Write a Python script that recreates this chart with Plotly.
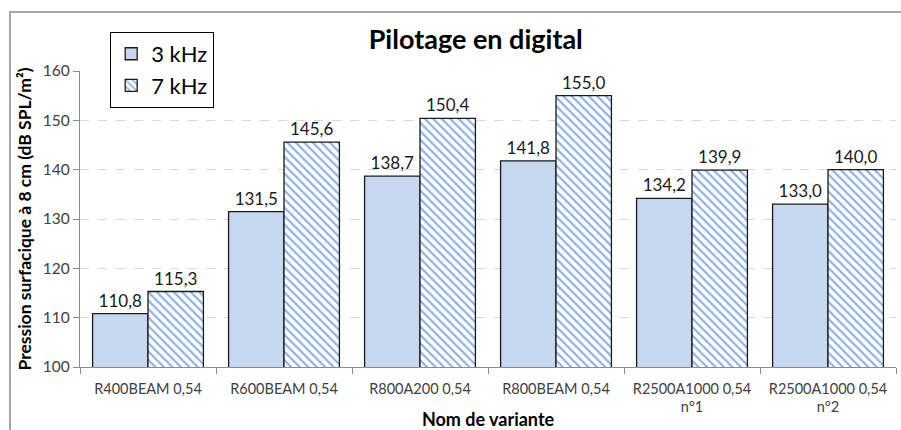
import plotly.graph_objects as go

# Variants and measured surface pressure (dB SPL/m²) at 8 cm
categories = [
    "R400BEAM 0,54",
    "R600BEAM 0,54",
    "R800A200 0,54",
    "R800BEAM 0,54",
    "R2500A1000 0,54<br>n°1",
    "R2500A1000 0,54<br>n°2",
]
values_3khz = [110.8, 131.5, 138.7, 141.8, 134.2, 133.0]
values_7khz = [115.3, 145.6, 150.4, 155.0, 139.9, 140.0]
y_ticks = [100, 110, 120, 130, 140, 150, 160]

FONT = "Lato, 'Open Sans', sans-serif"


def fr(v):
    return f"{v:.1f}".replace(".", ",")


fig = go.Figure()
fig.add_trace(go.Bar(
    name="3 kHz",
    x=categories,
    y=values_3khz,
    marker=dict(color="#c6d8f0", line=dict(color="#1a1a1a", width=1.3)),
    text=[fr(v) for v in values_3khz],
    textposition="outside",
    textfont=dict(size=17, color="#1a1a1a", family=FONT),
    cliponaxis=False,
))
fig.add_trace(go.Bar(
    name="7 kHz",
    x=categories,
    y=values_7khz,
    marker=dict(
        color="white",
        line=dict(color="#1a1a1a", width=1.3),
        pattern=dict(shape="\\", fgcolor="#8fb4e3", bgcolor="white",
                     size=6, solidity=0.38, fillmode="replace"),
    ),
    text=[fr(v) for v in values_7khz],
    textposition="outside",
    textfont=dict(size=17, color="#1a1a1a", family=FONT),
    cliponaxis=False,
))

fig.update_layout(
    width=901,
    height=430,
    margin=dict(l=80, r=5, t=71, b=63),
    paper_bgcolor="white",
    plot_bgcolor="white",
    barmode="group",
    bargap=0.185,
    bargroupgap=0,
    font=dict(family=FONT, color="#404040"),
    title=dict(
        text="<b>Pilotage en digital</b>",
        font=dict(size=27, color="black", family=FONT),
        xref="paper", x=0.485, xanchor="center",
        yref="container", y=1 - 40 / 430, yanchor="middle",
    ),
    legend=dict(
        x=0.037, y=1.132, xanchor="left", yanchor="top",
        bgcolor="white", bordercolor="black", borderwidth=1,
        font=dict(size=22, color="black", family=FONT),
        itemwidth=30, tracegroupgap=2,
    ),
    showlegend=True,
    xaxis=dict(
        title=dict(text="<b>Nom de variante</b>",
                   font=dict(size=18, color="black", family=FONT), standoff=2),
        tickfont=dict(size=14.5, color="#404040", family=FONT),
        ticklabelstandoff=8,
        automargin=False,
        showline=True, linecolor="#8c8c8c", linewidth=1.2,
        ticks="outside", ticklen=6, tickcolor="#8c8c8c",
        tickson="boundaries",
        showgrid=False,
    ),
    yaxis=dict(
        title=dict(text="<b>Pression surfacique à 8 cm (dB SPL/m²)</b>",
                   font=dict(size=17.5, color="black", family=FONT), standoff=6),
        automargin=False,
        range=[100, 160],
        tickvals=y_ticks,
        tickfont=dict(size=15.5, color="#404040", family=FONT),
        showline=True, linecolor="#8c8c8c", linewidth=1.2,
        ticks="outside", ticklen=6, tickcolor="#8c8c8c",
        showgrid=True, gridcolor="#d6d6d6", griddash="dash", gridwidth=1,
        zeroline=False,
    ),
    shapes=[dict(
        type="rect", xref="paper", yref="paper",
        x0=(10 - 80) / 816, x1=1.2, y0=-0.4, y1=1 + (71 - 12) / 296,
        line=dict(color="#a6a6a6", width=2), fillcolor="rgba(0,0,0,0)",
        layer="below",
    )],
)

fig.write_html("out.html")
